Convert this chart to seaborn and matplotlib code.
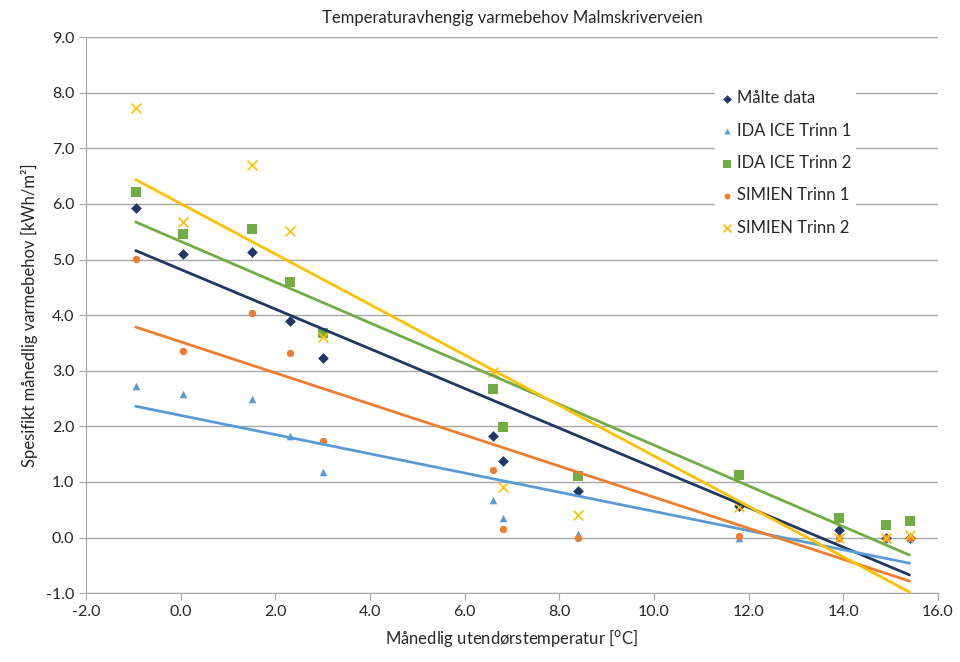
import matplotlib
matplotlib.use("Agg")
import matplotlib.pyplot as plt
import seaborn as sns
import pandas as pd

# månedlig utetemperatur [°C]
temp = [-0.95, 0.05, 1.5, 2.3, 3.0, 6.6, 6.8, 8.4, 11.8, 13.9, 14.9, 15.4]

malte = [5.93, 5.10, 5.13, 3.90, 3.22, 1.83, 1.37, 0.83, 0.56, 0.13, 0.0, 0.0]
ida1 = [2.72, 2.58, 2.50, 1.83, 1.18, 0.68, 0.35, 0.07, 0.0, 0.0, 0.0, 0.0]
ida2 = [6.22, 5.45, 5.55, 4.60, 3.68, 2.68, 1.98, 1.10, 1.13, 0.35, 0.22, 0.29]
simien1 = [5.01, 3.35, 4.04, 3.31, 1.74, 1.22, 0.15, 0.0, 0.03, 0.0, 0.0, 0.0]
simien2 = [7.73, 5.67, 6.70, 5.52, 3.60, 2.97, 0.90, 0.40, 0.55, 0.0, 0.0, 0.05]

series = [
    ("Målte data", malte, "#1F3864", "D", 30),
    ("IDA ICE Trinn 1", ida1, "#5B9BD5", "^", 30),
    ("IDA ICE Trinn 2", ida2, "#70AD47", "s", 55),
    ("SIMIEN Trinn 1", simien1, "#ED7D31", "o", 28),
    ("SIMIEN Trinn 2", simien2, "#FFC000", "x", 50),
]

sns.set_style("white")
plt.rcParams["font.family"] = ["Lato", "DejaVu Sans"]

fig = plt.figure(figsize=(9.6, 6.62), dpi=100)
ax = fig.add_axes([0.0896, 0.104, 0.8874, 0.840])

for name, vals, col, mk, sz in series:
    df = pd.DataFrame({"t": temp, "q": vals})
    sns.scatterplot(data=df, x="t", y="q", color=col, marker=mk, s=sz,
                    linewidth=1.2 if mk == "x" else 0, label=name, ax=ax, zorder=3)
    sns.regplot(data=df, x="t", y="q", scatter=False, ci=None, truncate=True,
                color=col, line_kws={"linewidth": 2, "zorder": 4}, ax=ax)

ax.set_xlim(-2, 16)
ax.set_ylim(-1, 9)
ax.set_xticks([-2 + 2 * i for i in range(10)])
ax.set_yticks([-1 + i for i in range(11)])
ax.xaxis.set_major_formatter(matplotlib.ticker.FormatStrFormatter("%.1f"))
ax.yaxis.set_major_formatter(matplotlib.ticker.FormatStrFormatter("%.1f"))
ax.grid(axis="y", color="#A6A6A6", linewidth=1)
ax.set_axisbelow(True)
for s in ["top", "right"]:
    ax.spines[s].set_visible(False)
for s in ["left", "bottom"]:
    ax.spines[s].set_color("#A6A6A6")
ax.tick_params(axis="x", direction="out", length=5, color="#A6A6A6", labelsize=11.5)
ax.tick_params(axis="y", direction="out", length=5, color="#A6A6A6", labelsize=11.5)
ax.tick_params(bottom=True, left=True)

ax.set_title("Temperaturavhengig varmebehov Malmskriverveien", fontsize=12, pad=10)
ax.set_xlabel("Månedlig utendørstemperatur [$^{\\mathrm{o}}$C]", fontsize=12, labelpad=6)
ax.set_ylabel("Spesifikt månedlig varmebehov [kWh/m²]", fontsize=12, labelpad=6)

leg = ax.legend(loc="upper right", bbox_to_anchor=(0.912, 0.925), frameon=True,
                fontsize=12, labelspacing=0.98, handletextpad=0.1,
                markerscale=0.8, borderpad=0.2, handlelength=1.0)
leg.get_frame().set_edgecolor("white")
leg.get_frame().set_facecolor("white")
leg.get_frame().set_alpha(1)

fig.savefig("out.png", dpi=100)
